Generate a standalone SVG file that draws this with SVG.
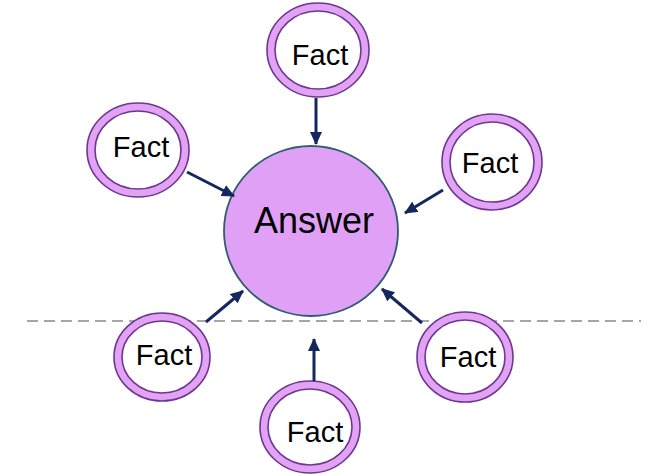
<svg xmlns="http://www.w3.org/2000/svg" width="654" height="474" viewBox="0 0 654 474">
  <defs>
    <style>
      .ring { fill: #e2a3f4; stroke: #6e3592; stroke-width: 1.6; }
      .hole { fill: #ffffff; stroke: #6e3592; stroke-width: 1.6; }
      .fact { font-family: "Liberation Sans", Arial, sans-serif; font-size: 29px; fill: #000; text-anchor: middle; }
      .answer-text { font-family: "Liberation Sans", Arial, sans-serif; font-size: 36px; fill: #000; text-anchor: middle; }
      .edge { stroke: #14275e; stroke-width: 3; fill: none; marker-end: url(#arrow); }
      .divider { stroke: #a6a6a6; stroke-width: 2.2; stroke-dasharray: 11 6; fill: none; }
    </style>
    <marker id="arrow" markerUnits="userSpaceOnUse" markerWidth="14" markerHeight="12" refX="12" refY="6" orient="auto">
      <path d="M0,0 L13,6 L0,12 Z" fill="#14275e"/>
    </marker>
  </defs>

  <!-- dashed divider -->
  <line class="divider" x1="27" y1="321" x2="641" y2="321"/>

  <!-- central answer -->
  <g id="answer">
    <ellipse cx="311" cy="231" rx="87" ry="85" fill="#e0a0f5" stroke="#2e5d6e" stroke-width="1.8"/>
    <text class="answer-text" x="314" y="233">Answer</text>
  </g>

  <!-- facts around the answer -->
  <g id="fact-top">
    <ellipse class="ring" cx="318" cy="50" rx="51" ry="47"/>
    <ellipse class="hole" cx="318" cy="50" rx="43" ry="39"/>
    <text class="fact" x="320" y="65">Fact</text>
  </g>
  <g id="fact-upper-left">
    <ellipse class="ring" cx="138" cy="150" rx="51" ry="47"/>
    <ellipse class="hole" cx="138" cy="150" rx="43" ry="39"/>
    <text class="fact" x="141" y="157">Fact</text>
  </g>
  <g id="fact-upper-right">
    <ellipse class="ring" cx="492" cy="162" rx="50" ry="48"/>
    <ellipse class="hole" cx="492" cy="162" rx="42" ry="40"/>
    <text class="fact" x="490" y="173">Fact</text>
  </g>
  <g id="fact-lower-left">
    <ellipse class="ring" cx="162" cy="357" rx="48" ry="44"/>
    <ellipse class="hole" cx="162" cy="357" rx="40" ry="36"/>
    <text class="fact" x="164" y="365">Fact</text>
  </g>
  <g id="fact-lower-right">
    <ellipse class="ring" cx="465" cy="357" rx="48" ry="45"/>
    <ellipse class="hole" cx="465" cy="357" rx="40" ry="37"/>
    <text class="fact" x="468" y="367">Fact</text>
  </g>
  <g id="fact-bottom">
    <ellipse class="ring" cx="310" cy="427" rx="50" ry="46"/>
    <ellipse class="hole" cx="310" cy="427" rx="42" ry="38"/>
    <text class="fact" x="315" y="442">Fact</text>
  </g>

  <!-- connectors -->
  <g id="connectors">
    <line class="edge" x1="316" y1="98" x2="316" y2="144"/>
    <line class="edge" x1="187" y1="172" x2="234" y2="196"/>
    <line class="edge" x1="443" y1="190" x2="405" y2="213"/>
    <line class="edge" x1="206" y1="322" x2="243" y2="291"/>
    <line class="edge" x1="422" y1="323" x2="382" y2="289"/>
    <line class="edge" x1="314" y1="381" x2="314" y2="339"/>
  </g>
</svg>
